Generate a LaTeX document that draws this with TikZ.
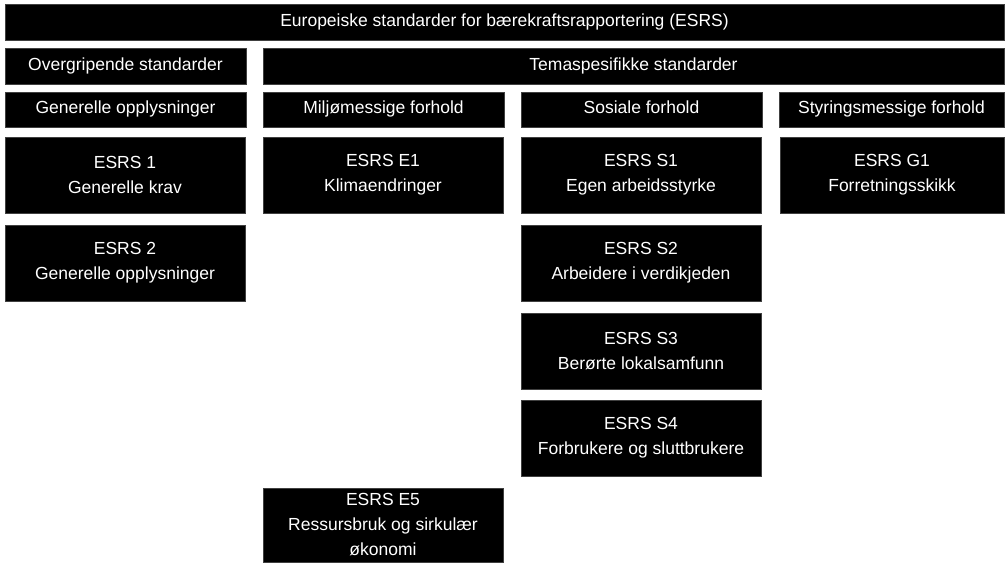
\documentclass[tikz,border=0pt]{standalone}
\usepackage{fontspec}
\setmainfont{Liberation Sans}
\begin{document}
\begin{tikzpicture}[x=1pt,y=-1pt,
  box/.style={fill=black, draw=black!75, line width=0.5pt, text=white,
    font=\fontsize{17.5}{25}\selectfont, align=center, inner sep=0pt, outer sep=0pt},
  bar/.style={box, minimum height=36pt, text height=12.6pt, text depth=3.7pt},
  hdr/.style={box, minimum height=35pt, text height=12.6pt, text depth=3.7pt},
  std/.style={box, minimum height=76pt, minimum width=240pt},
]
\useasboundingbox (0,0) rectangle (1006,562);
% top bar
\node[bar, minimum width=999pt] (top) at (504.5,22) {Europeiske standarder for bærekraftsrapportering (ESRS)};
% second row
\node[bar, minimum width=241pt] (over) at (125.5,66) {Overgripende standarder};
\node[bar, minimum width=741pt] (tema) at (633.5,66) {Temaspesifikke standarder};
% third row
\node[hdr, minimum width=241pt] (gen) at (125.5,109.5) {Generelle opplysninger};
\node[hdr, minimum width=241pt] (milj) at (383.5,109.5) {Miljømessige forhold};
\node[hdr, minimum width=241pt] (sos) at (641.5,109.5) {Sosiale forhold};
\node[hdr, minimum width=225pt] (sty) at (891.5,109.5) {Styringsmessige forhold};
% standards
\node[std] (esrs1) at (125,175) {ESRS 1\\Generelle krav};
\node[std] (esrs2) at (125,263) {ESRS 2\\Generelle opplysninger};
\node[std] (e1) at (383,175) {ESRS E1\\Klimaendringer};
\node[std, minimum height=74pt] (e5) at (383,525) {ESRS E5\\Ressursbruk og sirkulær\\økonomi};
\node[std] (s1) at (641,175) {ESRS S1\\Egen arbeidsstyrke};
\node[std] (s2) at (641,263) {ESRS S2\\Arbeidere i verdikjeden};
\node[std] (s3) at (641,351) {ESRS S3\\Berørte lokalsamfunn};
\node[std] (s4) at (641,438) {ESRS S4\\Forbrukere og sluttbrukere};
\node[std, minimum width=224pt] (g1) at (892,175) {ESRS G1\\Forretningsskikk};
\end{tikzpicture}
\end{document}
